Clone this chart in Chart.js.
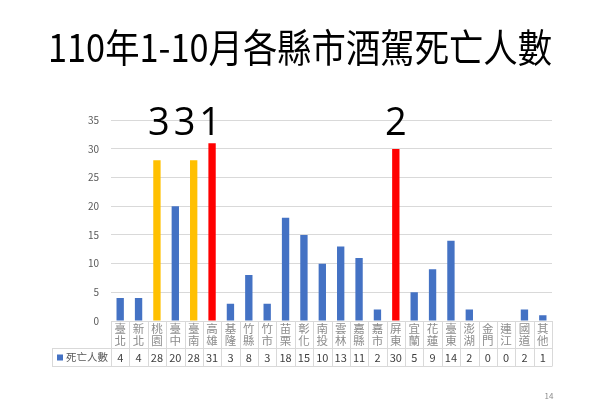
<!DOCTYPE html>
<html>
<head>
<meta charset="utf-8">
<script src="https://cdn.jsdelivr.net/npm/chart.js@4"></script>
<style>
  html, body { margin: 0; padding: 0; background: #fff; }
  #wrap { position: relative; width: 600px; height: 414px; }
</style>
</head>
<body>
<div id="wrap"><canvas id="chart"></canvas></div>
<script>
// categories and values
const counties = ['臺北', '新北', '桃園', '臺中', '臺南', '高雄', '基隆', '竹縣', '竹市', '苗栗', '彰化', '南投',
  '雲林', '嘉縣', '嘉市', '屏東', '宜蘭', '花蓮', '臺東', '澎湖', '金門', '連江', '國道', '其他'];
const deaths = [4, 4, 28, 20, 28, 31, 3, 8, 3, 18, 15, 10, 13, 11, 2, 30, 5, 9, 14, 2, 0, 0, 2, 1];
const seriesName = '死亡人數';
const orangeCounties = ['桃園', '臺南'];
const redCounties = ['高雄', '屏東'];
// big numbers written over the highlighted bars
const noteTexts = ['331', '2'];
const noteFrom = ['桃園', '屏東'];
const noteTo = ['高雄', '屏東'];

const BLUE = '#4472C4';
const ORANGE = '#FFC000';
const RED = '#FF0000';
const GRID = '#d9d9d9';
const FONT = '"Noto Sans CJK TC", "Noto Sans", sans-serif';

const barColors = counties.map(c => {
  if (redCounties.includes(c)) return RED;
  if (orangeCounties.includes(c)) return ORANGE;
  return BLUE;
});

// data table under the axis + annotations + page number
const tablePlugin = {
  id: 'tablePlugin',
  afterDraw(chart) {
    const ctx = chart.ctx;
    const x = chart.scales.x;
    const area = chart.chartArea;
    const step = x.getPixelForValue(1) - x.getPixelForValue(0);
    const top = area.bottom;
    const mid = top + 27;
    const bottom = mid + 18;
    const legendLeft = 52;

    ctx.save();
    ctx.strokeStyle = GRID;
    ctx.lineWidth = 1;
    ctx.beginPath();
    counties.forEach((c, i) => {
      const l = Math.round(x.getPixelForValue(i) - step / 2) + 0.5;
      ctx.moveTo(l, top);
      ctx.lineTo(l, bottom);
    });
    const r = Math.round(x.getPixelForValue(counties.length - 1) + step / 2) + 0.5;
    ctx.moveTo(r, top);
    ctx.lineTo(r, bottom);
    ctx.moveTo(legendLeft, Math.round(mid) + 0.5);
    ctx.lineTo(r, Math.round(mid) + 0.5);
    ctx.moveTo(legendLeft, Math.round(bottom) + 0.5);
    ctx.lineTo(r, Math.round(bottom) + 0.5);
    ctx.moveTo(legendLeft + 0.5, mid);
    ctx.lineTo(legendLeft + 0.5, bottom);
    ctx.stroke();

    // category names, one character per line
    ctx.fillStyle = '#8c8c8c';
    ctx.font = '11.5px ' + FONT;
    ctx.textAlign = 'center';
    ctx.textBaseline = 'middle';
    counties.forEach((c, i) => {
      const cx = x.getPixelForValue(i);
      ctx.fillText(c[0], cx, top + 8);
      ctx.fillText(c[1], cx, top + 20);
    });

    // values row
    ctx.fillStyle = '#404040';
    ctx.font = '11px ' + FONT;
    deaths.forEach((v, i) => {
      ctx.fillText(String(v), x.getPixelForValue(i), mid + 9.5);
    });

    // legend key
    ctx.fillStyle = BLUE;
    ctx.fillRect(legendLeft + 5, mid + 6.5, 6, 6);
    ctx.fillStyle = '#595959';
    ctx.font = '10.5px ' + FONT;
    ctx.textAlign = 'left';
    ctx.fillText(seriesName, legendLeft + 14, mid + 9.5);

    // annotations
    const y = chart.scales.y;
    ctx.fillStyle = '#000';
    ctx.font = '38px "Open Sans", "Noto Sans", sans-serif';
    ctx.textAlign = 'center';
    ctx.textBaseline = 'alphabetic';
    ctx.letterSpacing = '4px';
    noteTexts.forEach((t, k) => {
      const a = x.getPixelForValue(counties.indexOf(noteFrom[k]));
      const b = x.getPixelForValue(counties.indexOf(noteTo[k]));
      ctx.fillText(t, (a + b) / 2 + 2, y.getPixelForValue(35) + 15);
    });
    ctx.letterSpacing = '0px';

    // page number
    ctx.fillStyle = '#8c8c8c';
    ctx.font = '8px ' + FONT;
    ctx.fillText('14', 549, 399);
    ctx.restore();
  }
};

new Chart(document.getElementById('chart'), {
  type: 'bar',
  data: {
    labels: counties,
    datasets: [{
      label: seriesName,
      data: deaths,
      backgroundColor: barColors,
      categoryPercentage: 1,
      barPercentage: 0.4
    }]
  },
  options: {
    responsive: true,
    maintainAspectRatio: false,
    animation: false,
    layout: { padding: { left: 48, right: 48, top: 0, bottom: 93 } },
    scales: {
      x: {
        display: false
      },
      y: {
        min: 0,
        max: 35,
        ticks: {
          stepSize: 5,
          color: '#595959',
          font: { size: 10, family: FONT },
          padding: 12
        },
        grid: { color: GRID, drawTicks: false },
        border: { display: false },
        afterFit(scale) { scale.width = 63; }
      }
    },
    plugins: {
      legend: { display: false },
      tooltip: { enabled: false },
      title: {
        display: true,
        text: '110年1-10月各縣市酒駕死亡人數',
        color: '#000',
        font: { size: 38.5, weight: 'normal', family: FONT, lineHeight: 1.2 },
        padding: { top: 24, bottom: 50 }
      }
    }
  },
  plugins: [tablePlugin]
});
</script>
</body>
</html>
